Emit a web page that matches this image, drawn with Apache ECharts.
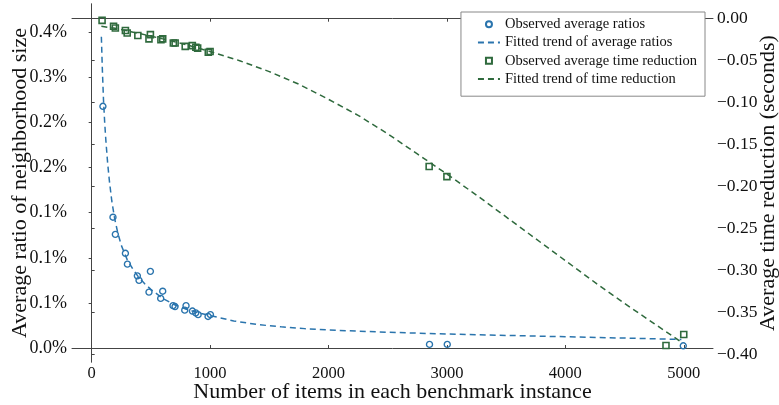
<!DOCTYPE html>
<html>
<head>
<meta charset="utf-8">
<script src="https://cdn.jsdelivr.net/npm/echarts@6/dist/echarts.min.js"></script>
<style>
  html, body { margin: 0; padding: 0; background: #fff; }
  #chart { width: 779px; height: 405px; }
</style>
</head>
<body>
<div id="chart"></div>
<script>
// tick labels
var xTicks = [0, 1000, 2000, 3000, 4000, 5000];
var ratioTicks = [0, 0.05, 0.10, 0.15, 0.20, 0.25, 0.30, 0.35];
var ratioTickLabels = ['0.0%', '0.1%', '0.1%', '0.1%', '0.2%', '0.2%', '0.3%', '0.4%'];
var timeTicks = [-0.40, -0.35, -0.30, -0.25, -0.20, -0.15, -0.10, -0.05, 0];
var timeTickLabels = ['\u22120.40', '\u22120.35', '\u22120.30', '\u22120.25', '\u22120.20', '\u22120.15', '\u22120.10', '\u22120.05', '0.00'];

// observed average ratios (percent)
var obsRatioX = [95, 180, 200, 285, 302, 386, 400, 496, 484, 600, 583, 687, 704, 797, 786, 851, 879, 899, 983, 1003, 2853, 3003, 4996];
var obsRatioY = [0.268, 0.145, 0.126, 0.105, 0.093, 0.080, 0.075, 0.085, 0.062, 0.063, 0.055, 0.047, 0.046, 0.047, 0.042, 0.041, 0.039, 0.037, 0.035, 0.037, 0.004, 0.004, 0.0025];

// fitted trend of ratios
var fitRatioX = [82, 90, 100, 110, 120, 135, 150, 170, 195, 220, 250, 300, 350, 400, 450, 500, 600, 700, 800, 900, 1000, 1200, 1400, 1600, 1800, 2000, 2500, 3000, 3500, 4000, 4500, 4980];
var fitRatioY = [0.345, 0.31, 0.275, 0.25, 0.23, 0.205, 0.185, 0.163, 0.143, 0.128, 0.114, 0.098, 0.087, 0.078, 0.071, 0.065, 0.055, 0.048, 0.043, 0.039, 0.036, 0.030, 0.026, 0.0235, 0.0215, 0.020, 0.0175, 0.0155, 0.014, 0.0125, 0.011, 0.0095];

// observed average time reduction (seconds)
var obsTimeX = [88, 185, 200, 285, 300, 390, 484, 496, 585, 600, 690, 705, 790, 850, 880, 895, 985, 1000, 2850, 3000, 4850, 5000];
var obsTimeY = [-0.002, -0.009, -0.011, -0.014, -0.017, -0.020, -0.024, -0.019, -0.025, -0.024, -0.029, -0.029, -0.033, -0.032, -0.034, -0.035, -0.040, -0.039, -0.176, -0.188, -0.389, -0.376];

// fitted trend of time reduction
var fitTimeX = [82, 200, 400, 600, 800, 1000, 1250, 1500, 1750, 2000, 2250, 2500, 2750, 3000, 3250, 3500, 3750, 4000, 4250, 4500, 4750, 4980];
var fitTimeY = [-0.009, -0.0115, -0.0175, -0.024, -0.031, -0.039, -0.050, -0.063, -0.078, -0.096, -0.115, -0.137, -0.161, -0.185, -0.210, -0.236, -0.262, -0.288, -0.314, -0.339, -0.363, -0.385];

function zip(a, b) {
  return a.map(function (v, i) { return [v, b[i]]; });
}

var blue = '#2a74ad';
var green = '#2f6a3d';
var axisColor = '#444';
var font = '"Liberation Serif", "DejaVu Serif", serif';
var circleIcon = 'path://M50,0A50,50,0,1,1,49.99,0Z';
var squareIcon = 'path://M0,0L100,0L100,100L0,100Z';

var myChart = echarts.init(document.getElementById('chart'), null, { renderer: 'canvas' });
var option = {
  animation: false,
  textStyle: { fontFamily: font },
  grid: { left: 72, right: 66, top: 4, bottom: 43, containLabel: false, outerBoundsMode: 'none' },
  legend: {
    orient: 'vertical',
    right: 74,
    top: 12,
    padding: [4, 8, 9, 16],
    itemWidth: 22,
    itemHeight: 6,
    itemGap: 2,
    borderColor: '#888',
    borderWidth: 1,
    backgroundColor: '#fff',
    textStyle: { fontFamily: font, fontSize: 14.5, color: '#111', lineHeight: 16.3 },
    data: [
      { name: 'Observed average ratios', icon: circleIcon },
      { name: 'Fitted trend of average ratios', itemStyle: { color: 'rgba(0,0,0,0)', borderWidth: 0 } },
      { name: 'Observed average time reduction', icon: squareIcon },
      { name: 'Fitted trend of time reduction', itemStyle: { color: 'rgba(0,0,0,0)', borderWidth: 0 } }
    ]
  },
  xAxis: [
    {
      type: 'value',
      min: -166,
      max: 5247,
      position: 'bottom',
      name: 'Number of items in each benchmark instance',
      nameLocation: 'middle',
      nameGap: 19,
      nameMoveOverlap: false,
      nameTextStyle: { fontFamily: font, fontSize: 22, color: '#111' },
      axisLine: { lineStyle: { color: axisColor } },
      axisTick: { inside: true, length: 3, customValues: xTicks, lineStyle: { color: axisColor } },
      axisLabel: {
        customValues: xTicks, fontFamily: font, fontSize: 16.5, color: '#111', margin: 3,
        formatter: function (v) { return String(v); }
      },
      splitLine: { show: false }
    },
    {
      type: 'value',
      min: -166,
      max: 5247,
      position: 'top',
      axisLine: { lineStyle: { color: axisColor } },
      axisTick: { inside: true, length: 3, customValues: xTicks, lineStyle: { color: axisColor } },
      axisLabel: { show: false },
      splitLine: { show: false }
    }
  ],
  yAxis: [
    {
      type: 'value',
      min: -0.0155,
      max: 0.3814,
      position: 'left',
      name: 'Average ratio of neighborhood size',
      nameLocation: 'middle',
      nameGap: 41,
      nameMoveOverlap: false,
      nameTextStyle: { fontFamily: font, fontSize: 22, color: '#111' },
      axisLine: { show: true, lineStyle: { color: axisColor } },
      axisTick: { show: true, length: 3, customValues: ratioTicks, lineStyle: { color: axisColor } },
      axisLabel: {
        customValues: ratioTicks,
        fontFamily: font, fontSize: 18, color: '#111', margin: 5,
        formatter: function (v) {
          for (var i = 0; i < ratioTicks.length; i++) {
            if (Math.abs(ratioTicks[i] - v) < 1e-9) return ratioTickLabels[i];
          }
          return '';
        }
      },
      splitLine: { show: false }
    },
    {
      type: 'value',
      min: -0.4087,
      max: 0.0175,
      position: 'right',
      name: 'Average time reduction (seconds)',
      nameLocation: 'middle',
      nameGap: 44,
      nameRotate: 90,
      nameMoveOverlap: false,
      nameTextStyle: { fontFamily: font, fontSize: 22, color: '#111' },
      axisLine: { show: true, lineStyle: { color: axisColor } },
      axisTick: { show: true, length: 3, customValues: timeTicks, lineStyle: { color: axisColor } },
      axisLabel: {
        customValues: timeTicks,
        fontFamily: font, fontSize: 17.5, color: '#111', margin: 4,
        formatter: function (v) {
          for (var i = 0; i < timeTicks.length; i++) {
            if (Math.abs(timeTicks[i] - v) < 1e-9) return timeTickLabels[i];
          }
          return '';
        }
      },
      splitLine: { show: false }
    }
  ],
  series: [
    {
      name: 'Observed average ratios',
      type: 'scatter',
      xAxisIndex: 0,
      yAxisIndex: 0,
      symbol: 'circle',
      symbolSize: 6,
      itemStyle: { color: 'rgba(255,255,255,0)', borderColor: blue, borderWidth: 1.4, opacity: 1 },
      data: zip(obsRatioX, obsRatioY),
      z: 3
    },
    {
      name: 'Fitted trend of average ratios',
      type: 'line',
      xAxisIndex: 0,
      yAxisIndex: 0,
      symbol: 'none',
      showSymbol: false,
      lineStyle: { color: blue, width: 1.5, type: [6, 4] },
      itemStyle: { color: blue },
      data: zip(fitRatioX, fitRatioY),
      z: 2
    },
    {
      name: 'Observed average time reduction',
      type: 'scatter',
      xAxisIndex: 0,
      yAxisIndex: 1,
      symbol: 'rect',
      symbolSize: 6,
      itemStyle: { color: 'rgba(255,255,255,0)', borderColor: green, borderWidth: 1.6, opacity: 1 },
      data: zip(obsTimeX, obsTimeY),
      z: 3
    },
    {
      name: 'Fitted trend of time reduction',
      type: 'line',
      xAxisIndex: 0,
      yAxisIndex: 1,
      symbol: 'none',
      showSymbol: false,
      lineStyle: { color: green, width: 1.5, type: [6, 4] },
      itemStyle: { color: green },
      data: zip(fitTimeX, fitTimeY),
      z: 2
    }
  ]
};
myChart.setOption(option);
</script>
</body>
</html>
